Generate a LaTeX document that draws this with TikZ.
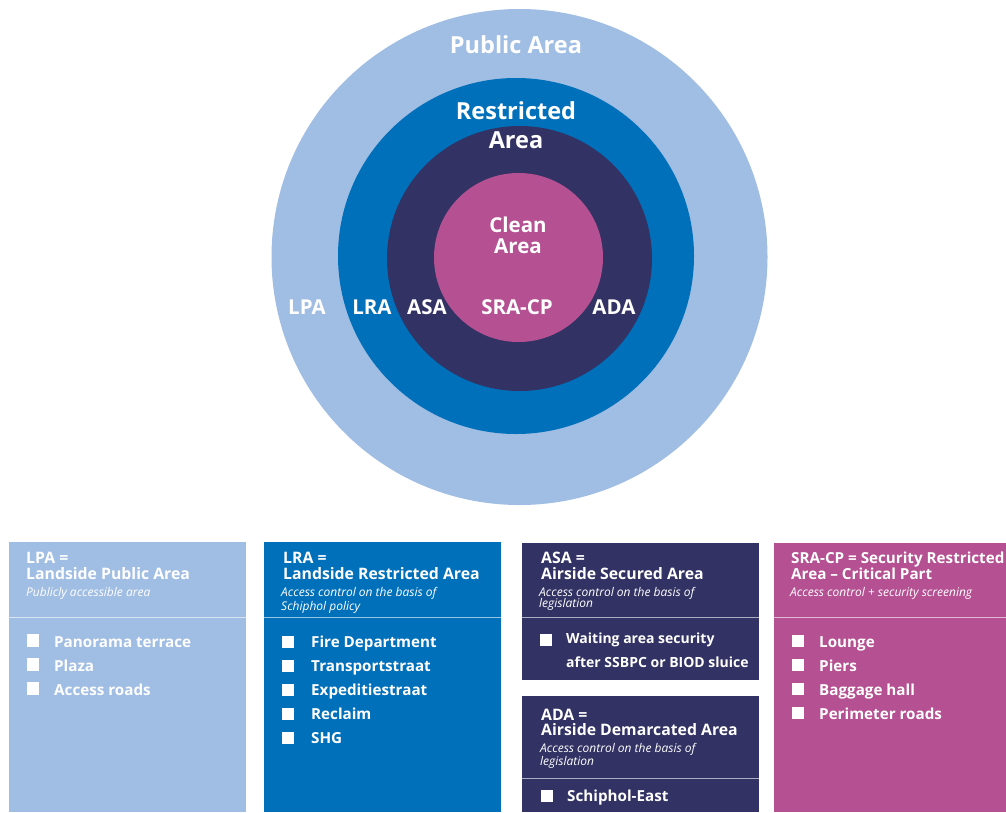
\documentclass[tikz,border=0pt]{standalone}
\usepackage{fontspec}
\setmainfont{Open Sans}
\definecolor{cLight}{HTML}{A0BDE3}
\definecolor{cBlue}{HTML}{0070BA}
\definecolor{cNavy}{HTML}{323264}
\definecolor{cPink}{HTML}{B55092}
\tikzset{
  hd/.style={anchor=base west, inner sep=0pt, text=white, font=\bfseries\fontsize{15.8}{16}\selectfont},
  hdn/.style={anchor=base west, inner sep=0pt, text=white, font=\bfseries\fontsize{15.2}{16}\selectfont},
  sub/.style={anchor=base west, inner sep=0pt, text=white, font=\itshape\fontsize{12}{12}\selectfont},
  itm/.style={anchor=base west, inner sep=0pt, text=white, font=\bfseries\fontsize{15.2}{15}\selectfont},
  itms/.style={anchor=base west, inner sep=0pt, text=white, font=\bfseries\fontsize{14}{14}\selectfont},
  big/.style={anchor=base, inner sep=0pt, text=white, font=\bfseries\fontsize{23.5}{24}\selectfont},
  mid/.style={anchor=base, inner sep=0pt, text=white, font=\bfseries\fontsize{20.5}{21}\selectfont},
  divider/.style={draw=white, draw opacity=0.6, line width=1pt},
  bullet/.style={fill=white}
}
\begin{document}
\begin{tikzpicture}[x=1pt,y=-1pt]
\useasboundingbox (0,0) rectangle (1006,812);
% circles
\fill[cLight] (519.5,257) circle (248);
\fill[cBlue] (516,256) circle (178);
\fill[cNavy] (519.5,258.5) circle (132.5);
\fill[cPink] (518.5,257.5) circle (84.5);
% circle labels
\node[big] (tPublic) at (516,53) {Public Area};
\node[big] (tRestr) at (516,119) {Restricted};
\node[big] (tRestrArea) at (516,148) {Area};
\node[mid] (tClean) at (518,232) {Clean};
\node[mid] (tCleanArea) at (518,253) {Area};
\node[mid] (tLPA) at (307,314) {LPA};
\node[mid] (tLRA) at (372,314) {LRA};
\node[mid] (tASA) at (427,314) {ASA};
\node[mid] (tSRA) at (517,314) {SRA-CP};
\node[mid] (tADA) at (614,314) {ADA};
% boxes
\fill[cLight] (9,542) rectangle (246,812);
\fill[cBlue] (264,542) rectangle (501,812);
\fill[cNavy] (522,543) rectangle (759,680);
\fill[cNavy] (522,696) rectangle (759,812);
\fill[cPink] (774,543) rectangle (1006,812);
\draw[divider] (9,617) -- (246,617);
\draw[divider] (264,617) -- (501,617);
\draw[divider] (522,617) -- (759,617);
\draw[divider] (522,778) -- (759,778);
\draw[divider] (774,617) -- (1006,617);
% LPA
\node[hd] (lpa1) at (26,563) {LPA =};
\node[hd] (lpa2) at (26,579) {Landside Public Area};
\node[sub] (lpa3) at (26,596) {Publicly accessible area};
\fill[bullet] (27,634) rectangle (39,647);
\node[itm] (lpaI1) at (54,647) {Panorama terrace};
\fill[bullet] (27,658) rectangle (39,671);
\node[itm] (lpaI2) at (54,671) {Plaza};
\fill[bullet] (27,682) rectangle (39,695);
\node[itm] (lpaI3) at (54,695) {Access roads};
% LRA
\node[hd] (lra1) at (283,563) {LRA =};
\node[hd] (lra2) at (283,579) {Landside Restricted Area};
\node[sub] (lra3) at (281,596) {Access control on the basis of};
\node[sub] (lra4) at (281,610) {Schiphol policy};
\fill[bullet] (282,636) rectangle (294,648);
\node[itm] (lraI1) at (311,647) {Fire Department};
\fill[bullet] (282,660) rectangle (294,672);
\node[itm] (lraI2) at (311,671) {Transportstraat};
\fill[bullet] (282,684) rectangle (294,696);
\node[itm] (lraI3) at (311,695) {Expeditiestraat};
\fill[bullet] (282,708) rectangle (294,720);
\node[itm] (lraI4) at (311,719) {Reclaim};
\fill[bullet] (282,732) rectangle (294,744);
\node[itm] (lraI5) at (311,743) {SHG};
% ASA
\node[hd] (asa1) at (541,563) {ASA =};
\node[hd] (asa2) at (541,579) {Airside Secured Area};
\node[sub] (asa3) at (539,596) {Access control on the basis of};
\node[sub] (asa4) at (539,607) {legislation};
\fill[bullet] (540,634) rectangle (552,646);
\node[itms] (asaI1) at (566,643) {Waiting area security};
\node[itms] (asaI2) at (566,667) {after SSBPC or BIOD sluice};
% ADA
\node[hd] (ada1) at (541,720) {ADA =};
\node[hd] (ada2) at (541,735) {Airside Demarcated Area};
\node[sub] (ada3) at (540,752) {Access control on the basis of};
\node[sub] (ada4) at (540,765) {legislation};
\fill[bullet] (541,790) rectangle (553,802);
\node[itm] (adaI1) at (567,801) {Schiphol-East};
% SRA-CP
\node[hdn] (sra1) at (791,563) {SRA-CP = Security Restricted};
\node[hdn] (sra2) at (791,579) {Area -- Critical Part};
\node[sub] (sra3) at (790,596) {Access control + security screening};
\fill[bullet] (792,635) rectangle (804,647);
\node[itm] (sraI1) at (819,647) {Lounge};
\fill[bullet] (792,659) rectangle (804,671);
\node[itm] (sraI2) at (819,671) {Piers};
\fill[bullet] (792,683) rectangle (804,695);
\node[itm] (sraI3) at (819,695) {Baggage hall};
\fill[bullet] (792,707) rectangle (804,719);
\node[itm] (sraI4) at (819,719) {Perimeter roads};
\end{tikzpicture}
\end{document}
